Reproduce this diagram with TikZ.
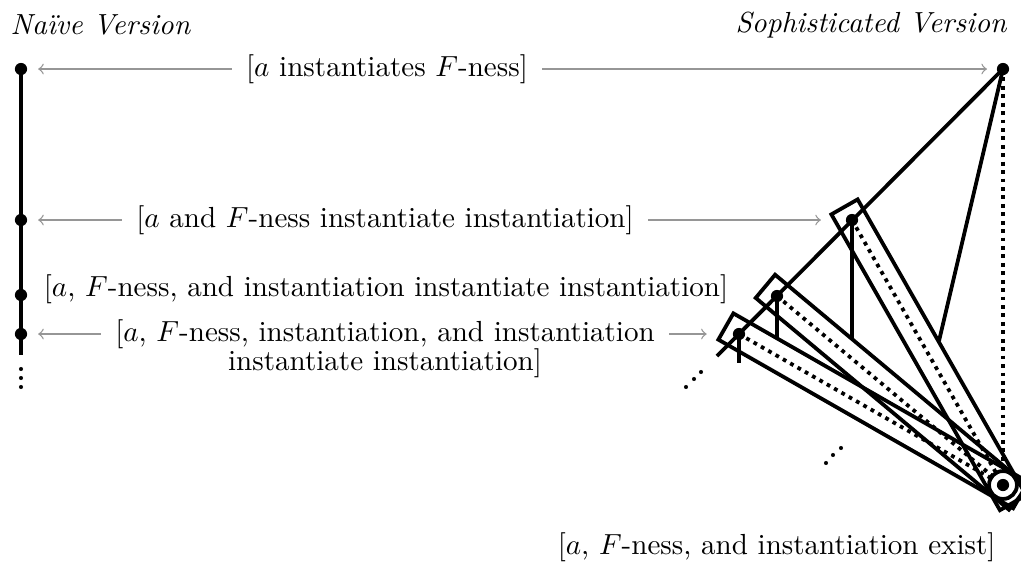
\documentclass[tikz,border=0pt]{standalone}
\usepackage{fontspec}
\usetikzlibrary{calc}
\definecolor{arrowgray}{RGB}{150,150,150}
\tikzset{
  ptdot/.style={circle, fill=black, inner sep=0pt, minimum size=4.2pt},
  smalldot/.style={circle, fill=black, inner sep=0pt, minimum size=1.4pt},
  solidline/.style={line width=1.3pt},
  dotline/.style={line width=1.3pt, dash pattern=on 1.3pt off 1.6pt},
  garrow/.style={->, draw=arrowgray, line width=0.45pt},
  lab/.style={inner xsep=4.8pt, inner ysep=0pt},
  ttl/.style={font=\itshape, inner sep=0pt},
}
\newcommand\barbox[2]{%
  \coordinate (#1s) at ($(#1)!-5.2pt!(#2)$);
  \coordinate (#1e) at ($(#2)!-7pt!(#1)$);
  \draw[solidline] ($(#1s)!5.2pt!90:(#1e)$) -- ($(#1e)!5.2pt!-90:(#1s)$)
     -- ($(#1e)!5.2pt!90:(#1s)$) -- ($(#1s)!5.2pt!-90:(#1e)$) -- cycle;
  \draw[dotline] (#1) -- (#2);
}
\begin{document}
\begin{tikzpicture}[x=0.344pt, y=-0.344pt]
\useasboundingbox (0,0) rectangle (1021,563);

% titles
\node[ttl, anchor=west] (tl) at (10,25) {Naïve Version};
\node[ttl, anchor=east] (tr) at (1007,25) {Sophisticated Version};

% left (naive) chain
\coordinate (Lend) at (21,355);
\draw[solidline] (21,69) -- (Lend);
\node[ptdot] (L1) at (21,69) {};
\node[ptdot] (L2) at (21,220) {};
\node[ptdot] (L3) at (21,295) {};
\node[ptdot] (L4) at (21,334) {};
\node[smalldot] (v1) at (21,369) {};
\node[smalldot] (v2) at (21,378) {};
\node[smalldot] (v3) at (21,387) {};

% right (sophisticated) points
\coordinate (T) at (1003,69);
\coordinate (P1) at (852,220);
\coordinate (P2) at (777,296);
\coordinate (P3) at (739,334);
\coordinate (B) at (1003,485);
\coordinate (E) at (717,356);
\coordinate (dT) at (939,341);
\coordinate (d1) at (852,339);
\coordinate (d2) at (777,338);
\coordinate (d3) at (739,363);

\barbox{P1}{B}
\barbox{P2}{B}
\barbox{P3}{B}

\draw[solidline] (T) -- (E);
\draw[solidline] (T) -- (dT);
\draw[solidline] (P1) -- (d1);
\draw[solidline] (P2) -- (d2);
\draw[solidline] (P3) -- (d3);
\draw[dotline] (T) -- (B);

\node[circle, draw, line width=1.3pt, fill=white, minimum size=9.6pt, inner sep=0pt] (Bring) at (B) {};
\node[ptdot] (nB) at (B) {};
\node[ptdot] (nT) at (T) {};
\node[ptdot] (nP1) at (P1) {};
\node[ptdot] (nP2) at (P2) {};
\node[ptdot] (nP3) at (P3) {};

\node[smalldot] (a1) at (686,387) {};
\node[smalldot] (a2) at (694,379) {};
\node[smalldot] (a3) at (701,372) {};
\node[smalldot] (b1) at (826,463) {};
\node[smalldot] (b2) at (833,455) {};
\node[smalldot] (b3) at (841,448) {};

% labels
\node[lab] (r1) at (387,69) {[$a$ instantiates $F$-ness]};
\node[lab] (r2) at (385,220) {[$a$ and $F$-ness instantiate instantiation]};
\node[lab] (r3) at (386,289) {[$a$, $F$-ness, and instantiation instantiate instantiation]};
\node[lab] (r4) at (385,334) {[$a$, $F$-ness, instantiation, and instantiation};
\node[lab] (r4b) at (385,363) {instantiate instantiation]};
\node[lab, anchor=east] (rb) at (1010,547) {[$a$, $F$-ness, and instantiation exist]};

% arrows
\draw[garrow, shorten >=3.6pt] (r1.west) -- (L1);
\draw[garrow, shorten >=3.2pt] (r1.east) -- (nT);
\draw[garrow, shorten >=3.6pt] (r2.west) -- (L2);
\draw[garrow, shorten >=8.4pt] (r2.east) -- (nP1);
\draw[garrow, shorten >=3.6pt] (r4.west) -- (L4);
\draw[garrow, shorten >=8.8pt] (r4.east) -- (nP3);
\end{tikzpicture}
\end{document}
